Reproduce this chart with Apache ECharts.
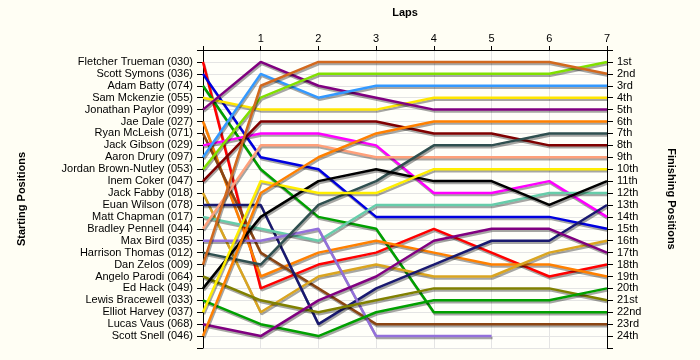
<!DOCTYPE html>
<html><head><meta charset="utf-8">
<script src="https://cdn.jsdelivr.net/npm/echarts@6/dist/echarts.min.js"></script>
<style>html,body{margin:0;padding:0;background:#FFFEF4;}#c{width:700px;height:360px;}</style>
</head><body><div id="c"></div>
<script>
const drivers = ["Fletcher Trueman (030)","Scott Symons (036)","Adam Batty (074)","Sam Mckenzie (055)","Jonathan Paylor (099)","Jae Dale (027)","Ryan McLeish (071)","Jack Gibson (029)","Aaron Drury (097)","Jordan Brown-Nutley (053)","Inem Coker (047)","Jack Fabby (018)","Euan Wilson (078)","Matt Chapman (017)","Bradley Pennell (044)","Max Bird (035)","Harrison Thomas (012)","Dan Zelos (009)","Angelo Parodi (064)","Ed Hack (049)","Lewis Bracewell (033)","Elliot Harvey (037)","Lucas Vaus (068)","Scott Snell (046)"];
const finishLabels = ["1st","2nd","3rd","4th","5th","6th","7th","8th","9th","10th","11th","12th","13th","14th","15th","16th","17th","18th","19th","20th","21st","22nd","23rd","24th"];
const laps = [0,1,2,3,4,5,6,7];
// positions per lap (lap 0 = start)
const trueman   = [1,20,18,17,15,17,19,18];
const symons    = [2,9,10,14,14,14,14,15];
const batty     = [3,10,14,15,22,22,22,22];
const mckenzie  = [4,5,5,5,4,4,4,4];
const paylor    = [5,1,3,4,5,5,5,5];
const dale      = [6,19,17,16,17,18,18,19];
const mcleish   = [7,17,20,23,23,23,23,23];
const gibson    = [8,7,7,8,12,12,11,14];
const drury     = [9,2,4,3,3,3,3,3];
const brownNutley = [10,4,2,2,2,2,2,1];
const coker     = [11,6,6,6,7,7,8,8];
const fabby     = [12,22,19,18,19,19,17,16];
const wilson    = [13,13,23,20,18,16,16,13];
const chapman   = [14,15,16,13,13,13,12,12];
const pennell   = [15,8,8,9,9,9,9,9];
const bird      = [16,16,15,24,24,24];
const thomas    = [17,18,13,11,8,8,7,7];
const zelos     = [18,3,1,1,1,1,1,2];
const parodi    = [19,21,22,21,20,20,20,21];
const hack      = [20,14,11,10,11,11,13,11];
const bracewell = [21,23,24,22,21,21,21,20];
const harvey    = [22,11,12,12,10,10,10,10];
const vaus      = [23,24,21,19,16,15,15,17];
const snell     = [24,12,9,7,6,6,6,6];
const colors = ["#FF0000","#0000E0","#00A000","#FFE600","#800080","#FF8000","#8B4513","#FF00FF","#3399FF","#80E000","#800000","#DAA520","#191970","#66CDAA","#FFA07A","#9370DB","#2F4F4F","#D2691E","#808000","#000000","#00A000","#FFEE00","#800080","#FF8000"];
const allPos = [trueman,symons,batty,mckenzie,paylor,dale,mcleish,gibson,drury,brownNutley,coker,fabby,wilson,chapman,pennell,bird,thomas,zelos,parodi,hack,bracewell,harvey,vaus,snell];

const font = "'Liberation Sans', Arial, sans-serif";
const series = allPos.map((arr,i)=>({
  type:'line', name:drivers[i], symbol:'none', animation:false,
  data: arr.map((p,j)=>[laps[j],p]),
  lineStyle:{color:colors[i], width:2.5, shadowColor:'rgba(0,0,0,0.35)', shadowBlur:0, shadowOffsetX:1, shadowOffsetY:2},
  z: 3
}));
const chart = echarts.init(document.getElementById('c'), null, {renderer:'canvas'});
chart.setOption({
  backgroundColor:'#FFFEF4',
  animation:false,
  grid:{left:203, right:93, top:50, bottom:12, show:true, backgroundColor:'#FFFFFA', borderWidth:0},
  xAxis:{type:'value', position:'top', min:0, max:7, interval:1,
    name:'Laps', nameLocation:'middle', nameGap:32,
    nameTextStyle:{fontFamily:font, fontSize:11, fontWeight:'bold', color:'#000'},
    axisLine:{show:true, lineStyle:{color:'#000', width:1}},
    axisTick:{show:true, length:4, lineStyle:{color:'#000'}},
    splitLine:{show:true, lineStyle:{color:'#E4E4E4', width:1}},
    axisLabel:{fontFamily:font, fontSize:11, color:'#000', margin:6, formatter:v=> v===0?'':String(v)}
  },
  yAxis:[
    {type:'value', inverse:true, min:0, max:25, interval:1, position:'left',
     name:'Starting Positions', nameLocation:'middle', nameGap:176, nameRotate:90,
     nameTextStyle:{fontFamily:font, fontSize:11, fontWeight:'bold', color:'#000'},
     axisLine:{show:true, lineStyle:{color:'#000', width:1}},
     axisTick:{show:true, length:6, lineStyle:{color:'#000'}},
     splitLine:{show:true, lineStyle:{color:'#E4E4E4', width:1}},
     axisLabel:{fontFamily:font, fontSize:11, color:'#000', margin:10, formatter:v=> (v>=1&&v<=24)?drivers[v-1]:''}
    },
    {type:'value', inverse:true, min:0, max:25, interval:1, position:'right',
     name:'Finishing Positions', nameLocation:'middle', nameGap:59, nameRotate:-90,
     nameTextStyle:{fontFamily:font, fontSize:11, fontWeight:'bold', color:'#000'},
     axisLine:{show:true, onZero:false, lineStyle:{color:'#000', width:1}},
     axisTick:{show:true, length:6, lineStyle:{color:'#000'}},
     splitLine:{show:false},
     axisLabel:{fontFamily:font, fontSize:11, color:'#000', margin:10, formatter:v=> (v>=1&&v<=24)?finishLabels[v-1]:''}
    }
  ],
  series: series
});
</script></body></html>
